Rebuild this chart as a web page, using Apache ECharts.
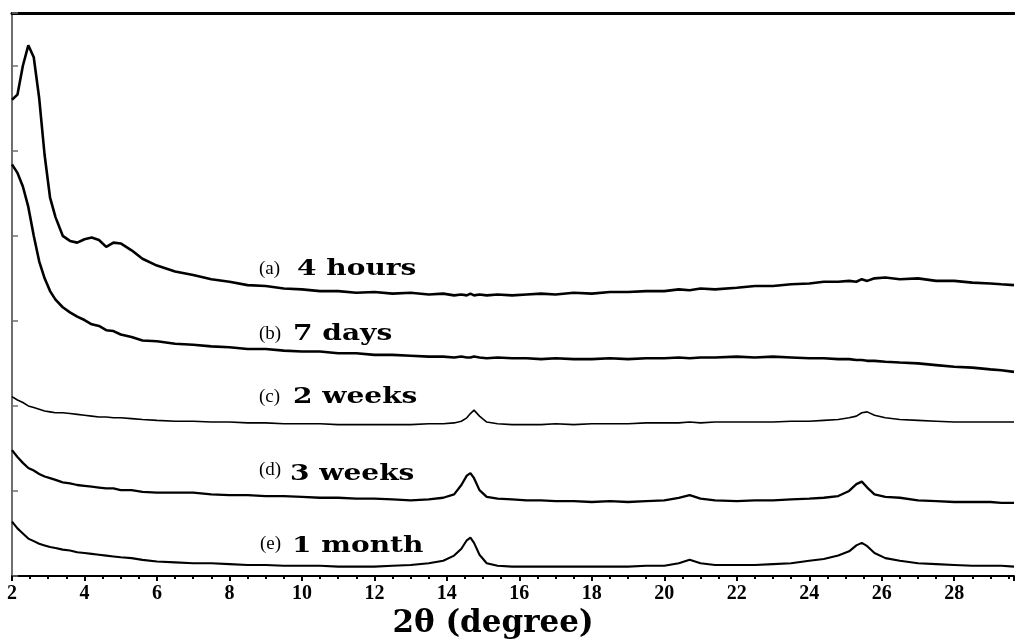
<!DOCTYPE html>
<html>
<head>
<meta charset="utf-8">
<script src="https://cdn.jsdelivr.net/npm/echarts@6/dist/echarts.min.js"></script>
<style>
  html, body { margin: 0; padding: 0; background: #fff; }
  #chart { width: 1015px; height: 641px; }
</style>
</head>
<body>
<div id="chart"></div>
<script>
// 2θ sample positions shared by all traces
const angles = [
  2.0, 2.15, 2.3, 2.45, 2.6, 2.75, 2.9, 3.05, 3.2, 3.4, 3.6, 3.8, 4.0, 4.2, 4.4, 4.6, 4.8, 5.0, 5.3, 5.6,
  6.0, 6.5, 7.0, 7.5, 8.0, 8.5, 9.0, 9.5, 10.0, 10.5, 11.0, 11.5, 12.0, 12.5, 13.0, 13.5, 13.9, 14.2, 14.4, 14.55,
  14.65, 14.75, 14.9, 15.1, 15.4, 15.8, 16.2, 16.6, 17.0, 17.5, 18.0, 18.5, 19.0, 19.5, 20.0, 20.4, 20.7, 21.0, 21.4, 22.0,
  22.5, 23.0, 23.5, 24.0, 24.4, 24.8, 25.1, 25.3, 25.45, 25.6, 25.8, 26.1, 26.5, 27.0, 27.5, 28.0, 28.5, 29.0, 29.3, 29.65
];

// (a) 4 hours
const hours4 = [
  5.60, 5.66, 6.00, 6.24, 6.10, 5.62, 4.95, 4.45, 4.22, 4.00, 3.94, 3.92, 3.96, 3.98, 3.95, 3.87, 3.92, 3.91, 3.83, 3.73,
  3.65, 3.58, 3.54, 3.49, 3.46, 3.42, 3.41, 3.38, 3.37, 3.35, 3.35, 3.33, 3.34, 3.32, 3.33, 3.31, 3.32, 3.30, 3.31, 3.30,
  3.32, 3.30, 3.31, 3.30, 3.31, 3.30, 3.31, 3.32, 3.31, 3.33, 3.32, 3.34, 3.34, 3.35, 3.35, 3.37, 3.36, 3.38, 3.37, 3.39,
  3.41, 3.41, 3.43, 3.44, 3.46, 3.46, 3.47, 3.46, 3.49, 3.47, 3.50, 3.51, 3.49, 3.50, 3.47, 3.47, 3.45, 3.44, 3.43, 3.42
];

// (b) 7 days
const days7 = [
  4.84, 4.74, 4.58, 4.34, 4.00, 3.70, 3.50, 3.35, 3.25, 3.16, 3.10, 3.05, 3.01, 2.96, 2.94, 2.89, 2.88, 2.84, 2.81, 2.77,
  2.76, 2.73, 2.72, 2.70, 2.69, 2.67, 2.67, 2.65, 2.64, 2.64, 2.62, 2.62, 2.60, 2.60, 2.59, 2.58, 2.58, 2.57, 2.58, 2.57,
  2.57, 2.58, 2.57, 2.56, 2.57, 2.56, 2.56, 2.55, 2.56, 2.55, 2.55, 2.56, 2.55, 2.56, 2.56, 2.57, 2.56, 2.57, 2.57, 2.58,
  2.57, 2.58, 2.57, 2.56, 2.56, 2.55, 2.55, 2.54, 2.54, 2.53, 2.53, 2.52, 2.51, 2.50, 2.48, 2.46, 2.45, 2.43, 2.42, 2.40
];

// (c) 2 weeks
const weeks2 = [
  2.11, 2.07, 2.04, 2.00, 1.98, 1.96, 1.94, 1.93, 1.92, 1.92, 1.91, 1.90, 1.89, 1.88, 1.87, 1.87, 1.86, 1.86, 1.85, 1.84,
  1.83, 1.82, 1.82, 1.81, 1.81, 1.80, 1.80, 1.79, 1.79, 1.79, 1.78, 1.78, 1.78, 1.78, 1.78, 1.79, 1.79, 1.80, 1.82, 1.86,
  1.91, 1.95, 1.88, 1.81, 1.79, 1.78, 1.78, 1.78, 1.79, 1.78, 1.79, 1.79, 1.79, 1.80, 1.80, 1.80, 1.81, 1.80, 1.81, 1.81,
  1.81, 1.81, 1.82, 1.82, 1.83, 1.84, 1.86, 1.88, 1.92, 1.93, 1.89, 1.86, 1.84, 1.83, 1.82, 1.81, 1.81, 1.81, 1.81, 1.81
];

// (d) 3 weeks
const weeks3 = [
  1.48, 1.40, 1.33, 1.27, 1.24, 1.20, 1.17, 1.15, 1.13, 1.10, 1.09, 1.07, 1.06, 1.05, 1.04, 1.03, 1.03, 1.01, 1.01, 0.99,
  0.98, 0.98, 0.98, 0.96, 0.95, 0.95, 0.94, 0.94, 0.93, 0.92, 0.92, 0.91, 0.91, 0.90, 0.89, 0.90, 0.92, 0.96, 1.07, 1.18,
  1.21, 1.15, 1.01, 0.93, 0.91, 0.90, 0.89, 0.89, 0.88, 0.88, 0.87, 0.88, 0.87, 0.88, 0.89, 0.92, 0.95, 0.91, 0.89, 0.88,
  0.89, 0.89, 0.90, 0.91, 0.92, 0.94, 1.00, 1.08, 1.11, 1.04, 0.96, 0.93, 0.92, 0.89, 0.88, 0.87, 0.87, 0.87, 0.86, 0.86
];

// (e) 1 month
const month1 = [
  0.64, 0.56, 0.50, 0.44, 0.41, 0.38, 0.36, 0.34, 0.33, 0.31, 0.30, 0.28, 0.27, 0.26, 0.25, 0.24, 0.23, 0.22, 0.21, 0.19,
  0.17, 0.16, 0.15, 0.15, 0.14, 0.13, 0.13, 0.12, 0.12, 0.12, 0.11, 0.11, 0.11, 0.12, 0.13, 0.15, 0.18, 0.24, 0.32, 0.42,
  0.45, 0.39, 0.25, 0.15, 0.12, 0.11, 0.11, 0.11, 0.11, 0.11, 0.11, 0.11, 0.11, 0.12, 0.12, 0.15, 0.19, 0.15, 0.13, 0.13,
  0.13, 0.14, 0.15, 0.18, 0.20, 0.24, 0.29, 0.36, 0.39, 0.35, 0.27, 0.21, 0.18, 0.15, 0.14, 0.13, 0.12, 0.12, 0.12, 0.11
];

const xTicks = [2, 4, 6, 8, 10, 12, 14, 16, 18, 20, 22, 24, 26, 28];

const traceLabels = [
  { tag: '(a)', name: '4 hours', tagX: 259, nameX: 297, y: 269, tagY: 269 },
  { tag: '(b)', name: '7 days', tagX: 259, nameX: 293, y: 334, tagY: 334 },
  { tag: '(c)', name: '2 weeks', tagX: 259, nameX: 293, y: 397, tagY: 397 },
  { tag: '(d)', name: '3 weeks', tagX: 259, nameX: 290, y: 474, tagY: 470 },
  { tag: '(e)', name: '1 month', tagX: 260, nameX: 292, y: 546, tagY: 544 }
];

const traces = [
  { values: hours4, width: 2.6 },
  { values: days7, width: 2.6 },
  { values: weeks2, width: 1.6 },
  { values: weeks3, width: 2.3 },
  { values: month1, width: 2.1 }
];

const chart = echarts.init(document.getElementById('chart'));

const graphics = [];
traceLabels.forEach(l => {
  graphics.push({
    type: 'text', x: l.tagX, y: l.tagY,
    style: { text: l.tag, font: '19px "Liberation Serif"', fill: '#000', verticalAlign: 'middle' }
  });
  graphics.push({
    type: 'text', x: l.nameX, y: l.y, scaleX: 1.22,
    style: { text: l.name, font: 'bold 23px "DejaVu Serif"', fill: '#000', verticalAlign: 'middle' }
  });
});

chart.setOption({
  animation: false,
  backgroundColor: '#fff',
  grid: { left: 12, right: 1, top: 13, bottom: 65, outerBoundsMode: 'none' },
  xAxis: [
    {
      type: 'value', min: 2, max: 29.65, interval: 2,
      name: '2θ (degree)', nameLocation: 'middle', nameGap: 30,
      nameTextStyle: { fontFamily: 'DejaVu Serif', fontWeight: 'bold', fontSize: 31, color: '#000', padding: [0, 40, 0, 0] },
      axisLine: { lineStyle: { color: '#000', width: 2 } },
      axisTick: { show: true, inside: false, length: 5, lineStyle: { color: '#000', width: 2 } },
      minorTick: { show: true, splitNumber: 4, length: 3, lineStyle: { color: '#000', width: 2 } },
      axisLabel: {
        margin: 8, showMaxLabel: false,
        fontFamily: 'Liberation Serif', fontWeight: 'bold', fontSize: 20, color: '#000',
        formatter: v => (xTicks.indexOf(v) >= 0 ? String(v) : '')
      },
      splitLine: { show: false }
    },
    {
      type: 'value', position: 'top', min: 2, max: 29.65,
      axisLine: { lineStyle: { color: '#000', width: 3 } },
      axisTick: { show: false }, axisLabel: { show: false }, splitLine: { show: false }
    }
  ],
  yAxis: {
    type: 'value', min: 0, max: 6.62, interval: 1,
    axisLine: { show: true, lineStyle: { color: '#6e6e6e', width: 2 } },
    axisTick: { show: true, inside: true, length: 6, lineStyle: { color: '#6e6e6e', width: 1.5 } },
    axisLabel: { show: false },
    splitLine: { show: false }
  },
  series: traces.map(t => ({
    type: 'line',
    xAxisIndex: 0,
    data: angles.map((a, i) => [a, t.values[i]]),
    showSymbol: false,
    smooth: false,
    lineStyle: { color: '#000', width: t.width },
    z: 3
  })),
  graphic: graphics
});
</script>
</body>
</html>
